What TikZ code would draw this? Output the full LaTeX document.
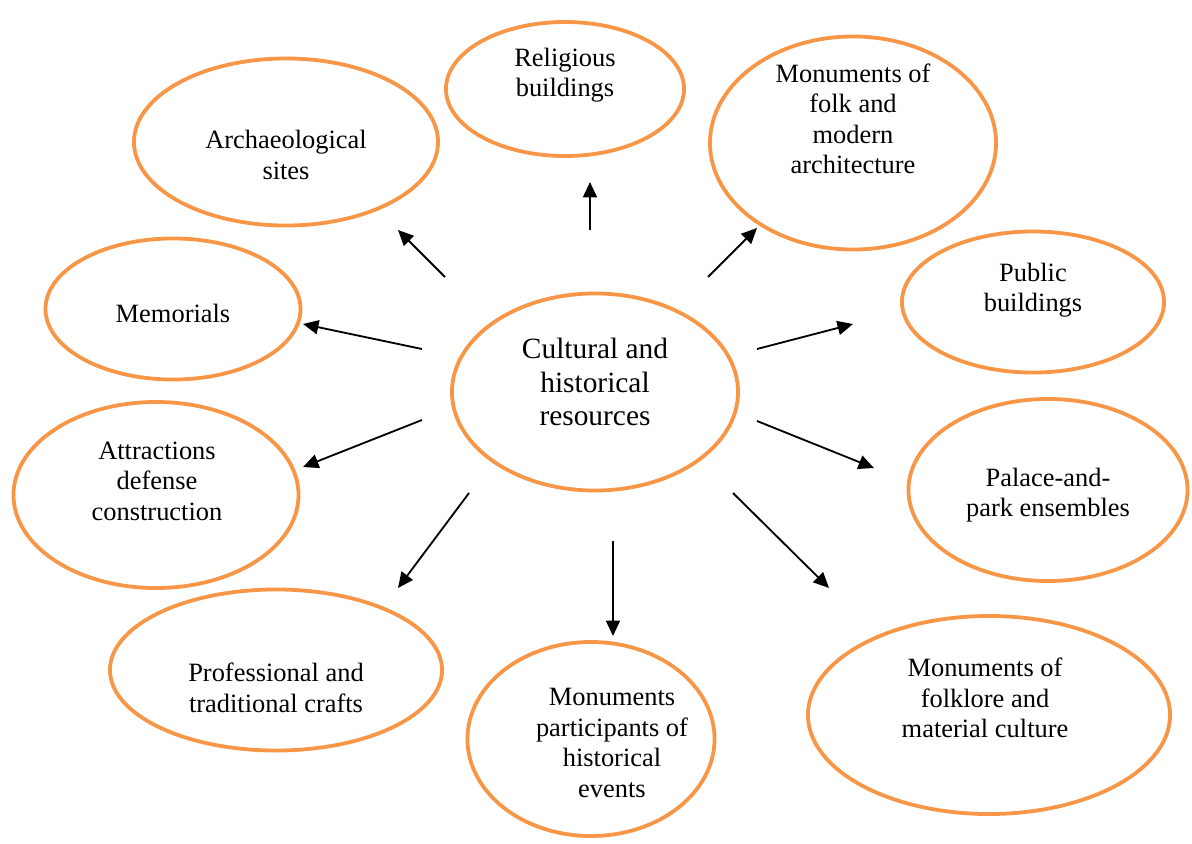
\documentclass[tikz,border=0pt]{standalone}
\usepackage{fontspec}
\setmainfont{Liberation Serif}
\usetikzlibrary{shapes.geometric,arrows.meta}
\definecolor{ringorange}{HTML}{F79646}
\tikzset{
    ring/.style={draw=ringorange,line width=2.7pt,ellipse,inner sep=0pt},
    ringtext/.style={align=center,font=\fontsize{18.8}{21.7}\selectfont},
    arr/.style={line width=1.3pt,-{Triangle[length=11pt,width=10pt]}}
}
\begin{document}
\begin{tikzpicture}[x=0.025cm,y=-0.025cm]
    \useasboundingbox (0,0) rectangle (1192,843);
    % ellipses
    \node [ring,minimum width=7.15cm,minimum height=4.925cm] (res)   at (595,392) {};
    \node [ring,minimum width=5.95cm,minimum height=3.35cm]  (relig) at (565,89)  {};
    \node [ring,minimum width=7.15cm,minimum height=5.325cm] (folk)  at (853,143) {};
    \node [ring,minimum width=7.6cm,minimum height=4.175cm]  (arch)  at (286,142) {};
    \node [ring,minimum width=6.375cm,minimum height=3.525cm] (memo) at (173,309) {};
    \node [ring,minimum width=6.55cm,minimum height=3.525cm] (publ)  at (1033,302) {};
    \node [ring,minimum width=7.125cm,minimum height=4.65cm] (defn)  at (156,495) {};
    \node [ring,minimum width=6.975cm,minimum height=4.55cm] (palace) at (1048,490) {};
    \node [ring,minimum width=8.3cm,minimum height=4.025cm]  (craft) at (276,670) {};
    \node [ring,minimum width=6.175cm,minimum height=4.85cm] (event) at (591,739) {};
    \node [ring,minimum width=9.05cm,minimum height=4.95cm]  (lore)  at (989,715) {};
    % texts
    \node [ringtext,font=\fontsize{20.9}{23.8}\selectfont] (resT) at (595,382) {Cultural and\\historical\\resources};
    \node [ringtext] (religT)  at (565,75)  {Religious\\buildings};
    \node [ringtext] (folkT)   at (853,119) {Monuments of\\folk and\\modern\\architecture};
    \node [ringtext] (archT)   at (286,155) {Archaeological\\sites};
    \node [ringtext] (memoT)   at (173,313) {Memorials};
    \node [ringtext] (publT)   at (1033,290) {Public\\buildings};
    \node [ringtext] (defnT)   at (157,481) {Attractions\\defense\\construction};
    \node [ringtext] (palaceT) at (1048,495) {Palace-and-\\park ensembles};
    \node [ringtext] (craftT)  at (276,688) {Professional and\\traditional crafts};
    \node [ringtext] (eventT)  at (612,743) {Monuments\\participants of\\historical\\events};
    \node [ringtext] (loreT)   at (985,698) {Monuments of\\folklore and\\material culture};
    % arrows
    \foreach \i/\s/\e in {1/{590,230}/{590,182}, 2/{445,277}/{398,230}, 3/{708,277}/{757,228},
                          4/{422,349}/{303,324}, 5/{757,349}/{853,324}, 6/{422,420}/{303,467},
                          7/{757,421}/{874,468}, 8/{469,493}/{398,588}, 9/{613,541}/{613,636},
                          10/{733,493}/{829,588}}{
        \coordinate (from\i) at (\s);
        \coordinate (to\i) at (\e);
        \draw [arr] (from\i) -- (to\i);
    }
\end{tikzpicture}
\end{document}
